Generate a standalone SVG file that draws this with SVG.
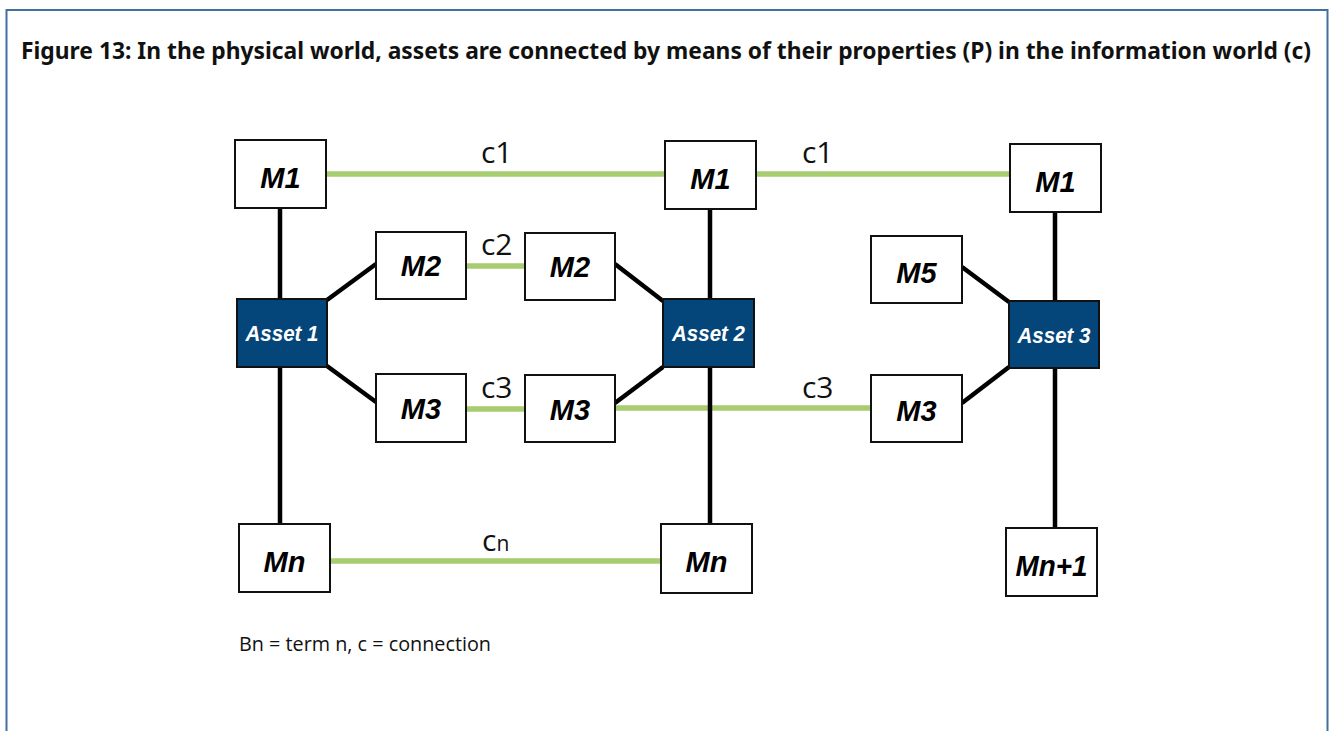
<svg xmlns="http://www.w3.org/2000/svg" width="1330" height="731" viewBox="0 0 1330 731">
<style>
.frame{fill:#fff;stroke:#41709f;stroke-width:2}
.m{fill:#fff;stroke:#111;stroke-width:2}
.a{fill:#04457a;stroke:#111;stroke-width:2}
.mt{font-family:"Liberation Sans",Arial,sans-serif;font-weight:bold;font-style:italic;font-size:29px;fill:#000;text-anchor:middle}
.at{font-family:"Liberation Sans",Arial,sans-serif;font-weight:bold;font-style:italic;font-size:22px;fill:#fff;text-anchor:middle}
.blk{stroke:#000;stroke-width:4.5;fill:none}
.grn{stroke:#a8cc70;stroke-width:5.5;fill:none}
.cl{font-family:"Open Sans","Noto Sans",sans-serif;font-size:30px;fill:#111}
.title{font-family:"Noto Sans","DejaVu Sans",sans-serif;font-weight:bold;font-size:23px;fill:#111}
.note{font-family:"Open Sans","Noto Sans",sans-serif;font-size:20px;fill:#111}
</style>
<rect x="0" y="0" width="1330" height="731" fill="#fff"/>
<rect class="frame" x="6.5" y="10" width="1321" height="740"/>
<text class="title" x="21" y="59" textLength="1290" lengthAdjust="spacingAndGlyphs">Figure 13: In the physical world, assets are connected by means of their properties (P) in the information world (c)</text>

<g id="connectors">
  <line class="grn" x1="326" y1="174" x2="665" y2="174"/>
  <line class="grn" x1="756" y1="174" x2="1010" y2="174"/>
  <line class="grn" x1="466" y1="266" x2="525" y2="266"/>
  <line class="grn" x1="466" y1="409" x2="525" y2="409"/>
  <line class="grn" x1="615" y1="408" x2="871" y2="408"/>
  <line class="grn" x1="330" y1="561" x2="661" y2="561"/>
  <line class="blk" x1="280" y1="208" x2="280" y2="524"/>
  <line class="blk" x1="710" y1="209" x2="710" y2="524"/>
  <line class="blk" x1="1055" y1="212" x2="1055" y2="528"/>
  <line class="blk" x1="327" y1="300" x2="376" y2="264"/>
  <line class="blk" x1="327" y1="366" x2="376" y2="402"/>
  <line class="blk" x1="615" y1="264" x2="663" y2="301"/>
  <line class="blk" x1="615" y1="403" x2="663" y2="367"/>
  <line class="blk" x1="962" y1="267" x2="1009" y2="302"/>
  <line class="blk" x1="962" y1="403" x2="1009" y2="367"/>
  <text class="cl" x="481" y="163">c1</text>
  <text class="cl" x="802" y="163">c1</text>
  <text class="cl" x="481" y="255">c2</text>
  <text class="cl" x="481" y="398">c3</text>
  <text class="cl" x="802" y="398">c3</text>
  <text class="cl" x="482" y="551">c<tspan font-size="21px">n</tspan></text>
</g>

<g id="m1a"><rect class="m" x="235" y="140" width="91" height="68"/><text class="mt" x="280.5" y="188">M1</text></g>
<g id="asset1"><rect class="a" x="237" y="299" width="90" height="68"/><text class="at" x="282" y="341" textLength="73" lengthAdjust="spacingAndGlyphs">Asset 1</text></g>
<g id="m2a"><rect class="m" x="376" y="232" width="90" height="67"/><text class="mt" x="421" y="276">M2</text></g>
<g id="m3a"><rect class="m" x="376" y="374" width="90" height="68"/><text class="mt" x="421" y="419">M3</text></g>
<g id="m2b"><rect class="m" x="525" y="233" width="90" height="67"/><text class="mt" x="570" y="277">M2</text></g>
<g id="m3b"><rect class="m" x="525" y="375" width="90" height="67"/><text class="mt" x="570" y="420">M3</text></g>
<g id="mna"><rect class="m" x="239" y="524" width="91" height="68"/><text class="mt" x="284.5" y="572">Mn</text></g>
<g id="m1b"><rect class="m" x="665" y="141" width="91" height="68"/><text class="mt" x="710.5" y="189">M1</text></g>
<g id="asset2"><rect class="a" x="663" y="299" width="91" height="68"/><text class="at" x="708.5" y="341" textLength="73" lengthAdjust="spacingAndGlyphs">Asset 2</text></g>
<g id="mnb"><rect class="m" x="661" y="524" width="91" height="69"/><text class="mt" x="706.5" y="572">Mn</text></g>
<g id="m1c"><rect class="m" x="1010" y="144" width="91" height="68"/><text class="mt" x="1055.5" y="192">M1</text></g>
<g id="m5"><rect class="m" x="871" y="236" width="91" height="67"/><text class="mt" x="916.5" y="283">M5</text></g>
<g id="asset3"><rect class="a" x="1009" y="301" width="90" height="67"/><text class="at" x="1054" y="343" textLength="73" lengthAdjust="spacingAndGlyphs">Asset 3</text></g>
<g id="m3c"><rect class="m" x="871" y="375" width="91" height="67"/><text class="mt" x="916.5" y="421">M3</text></g>
<g id="mn1"><rect class="m" x="1006" y="528" width="91" height="68"/><text class="mt" x="1051.5" y="576" textLength="72" lengthAdjust="spacingAndGlyphs">Mn+1</text></g>

<text class="note" x="239" y="651" textLength="252" lengthAdjust="spacingAndGlyphs">Bn = term n, c = connection</text>
</svg>
